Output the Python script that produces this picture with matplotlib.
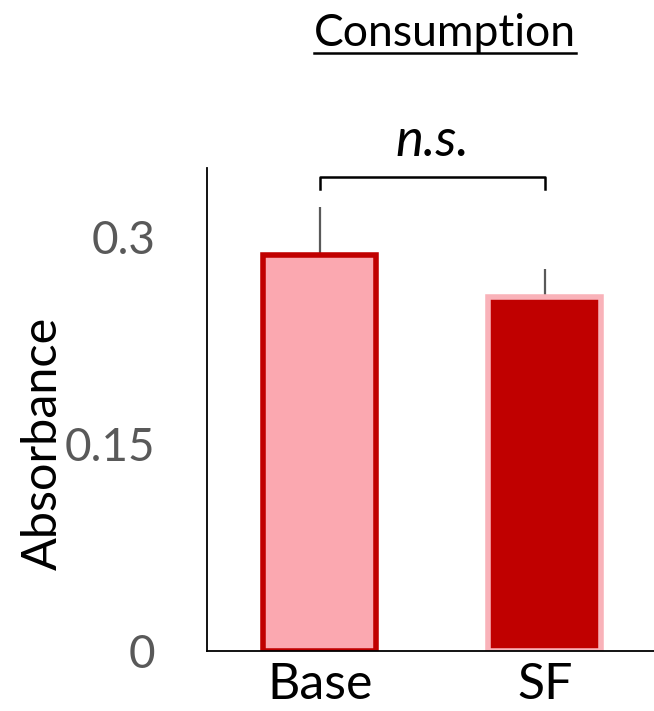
import matplotlib
matplotlib.use("Agg")
import matplotlib.pyplot as plt
from matplotlib.lines import Line2D

plt.rcParams['font.family'] = ['Lato', 'DejaVu Sans']

# data
groups   = ['Base', 'SF']
means    = [0.287, 0.2565]
errs     = [0.035, 0.020]
fills    = ['#FBA8B0', '#C00000']
edges    = ['#C00000', '#F9B2B9']
y_ticks  = [0, 0.15, 0.3]
y_labels = ['0', '0.15', '0.3']

fig = plt.figure(figsize=(6.54, 7.11), dpi=100)
ax = fig.add_axes([207/654, 60/711, 447/654, 483/711])

x = list(range(len(groups)))
ax.bar(x, means, width=0.5, color=fills, edgecolor=edges, linewidth=4, zorder=2)
ax.errorbar(x, means, yerr=[[0]*len(errs), errs], fmt='none',
            ecolor='#595959', elinewidth=1.6, capsize=0, zorder=1)

ax.set_xlim(-0.5, 1.485)
ax.set_ylim(0, 0.35)
ax.set_yticks(y_ticks)
ax.set_yticklabels(y_labels)
ax.set_xticks(x)
ax.set_xticklabels(groups)
ax.tick_params(axis='y', length=0, labelsize=33, labelcolor='#595959', pad=37)
ax.tick_params(axis='x', length=0, labelsize=36, labelcolor='black', pad=8)
ax.set_ylabel('Absorbance', fontsize=35)
ax.yaxis.set_label_coords(-0.318, 0.43)
for s in ['top', 'right']:
    ax.spines[s].set_visible(False)
ax.spines['left'].set_linewidth(1.3)
ax.spines['bottom'].set_linewidth(1.3)

# significance bracket
by, bh = 0.3435, 0.009
ax.plot([0, 0, 1, 1], [by - bh, by, by, by - bh], color='black', lw=1.8,
        clip_on=False, solid_joinstyle='round')
ax.text(0.5, by + 0.009, 'n.s.', ha='center', va='bottom', fontsize=38,
        style='italic', clip_on=False)

# underlined title
t = fig.text(445/654, 1 - 46/711, 'Consumption', ha='center', va='baseline',
             fontsize=32)
fig.canvas.draw()
bb = t.get_window_extent().transformed(fig.transFigure.inverted())
uy = 1 - 53/711
fig.add_artist(Line2D([bb.x0, bb.x1], [uy, uy], transform=fig.transFigure,
                      color='black', lw=1.8))

fig.savefig('out.png', dpi=100)
